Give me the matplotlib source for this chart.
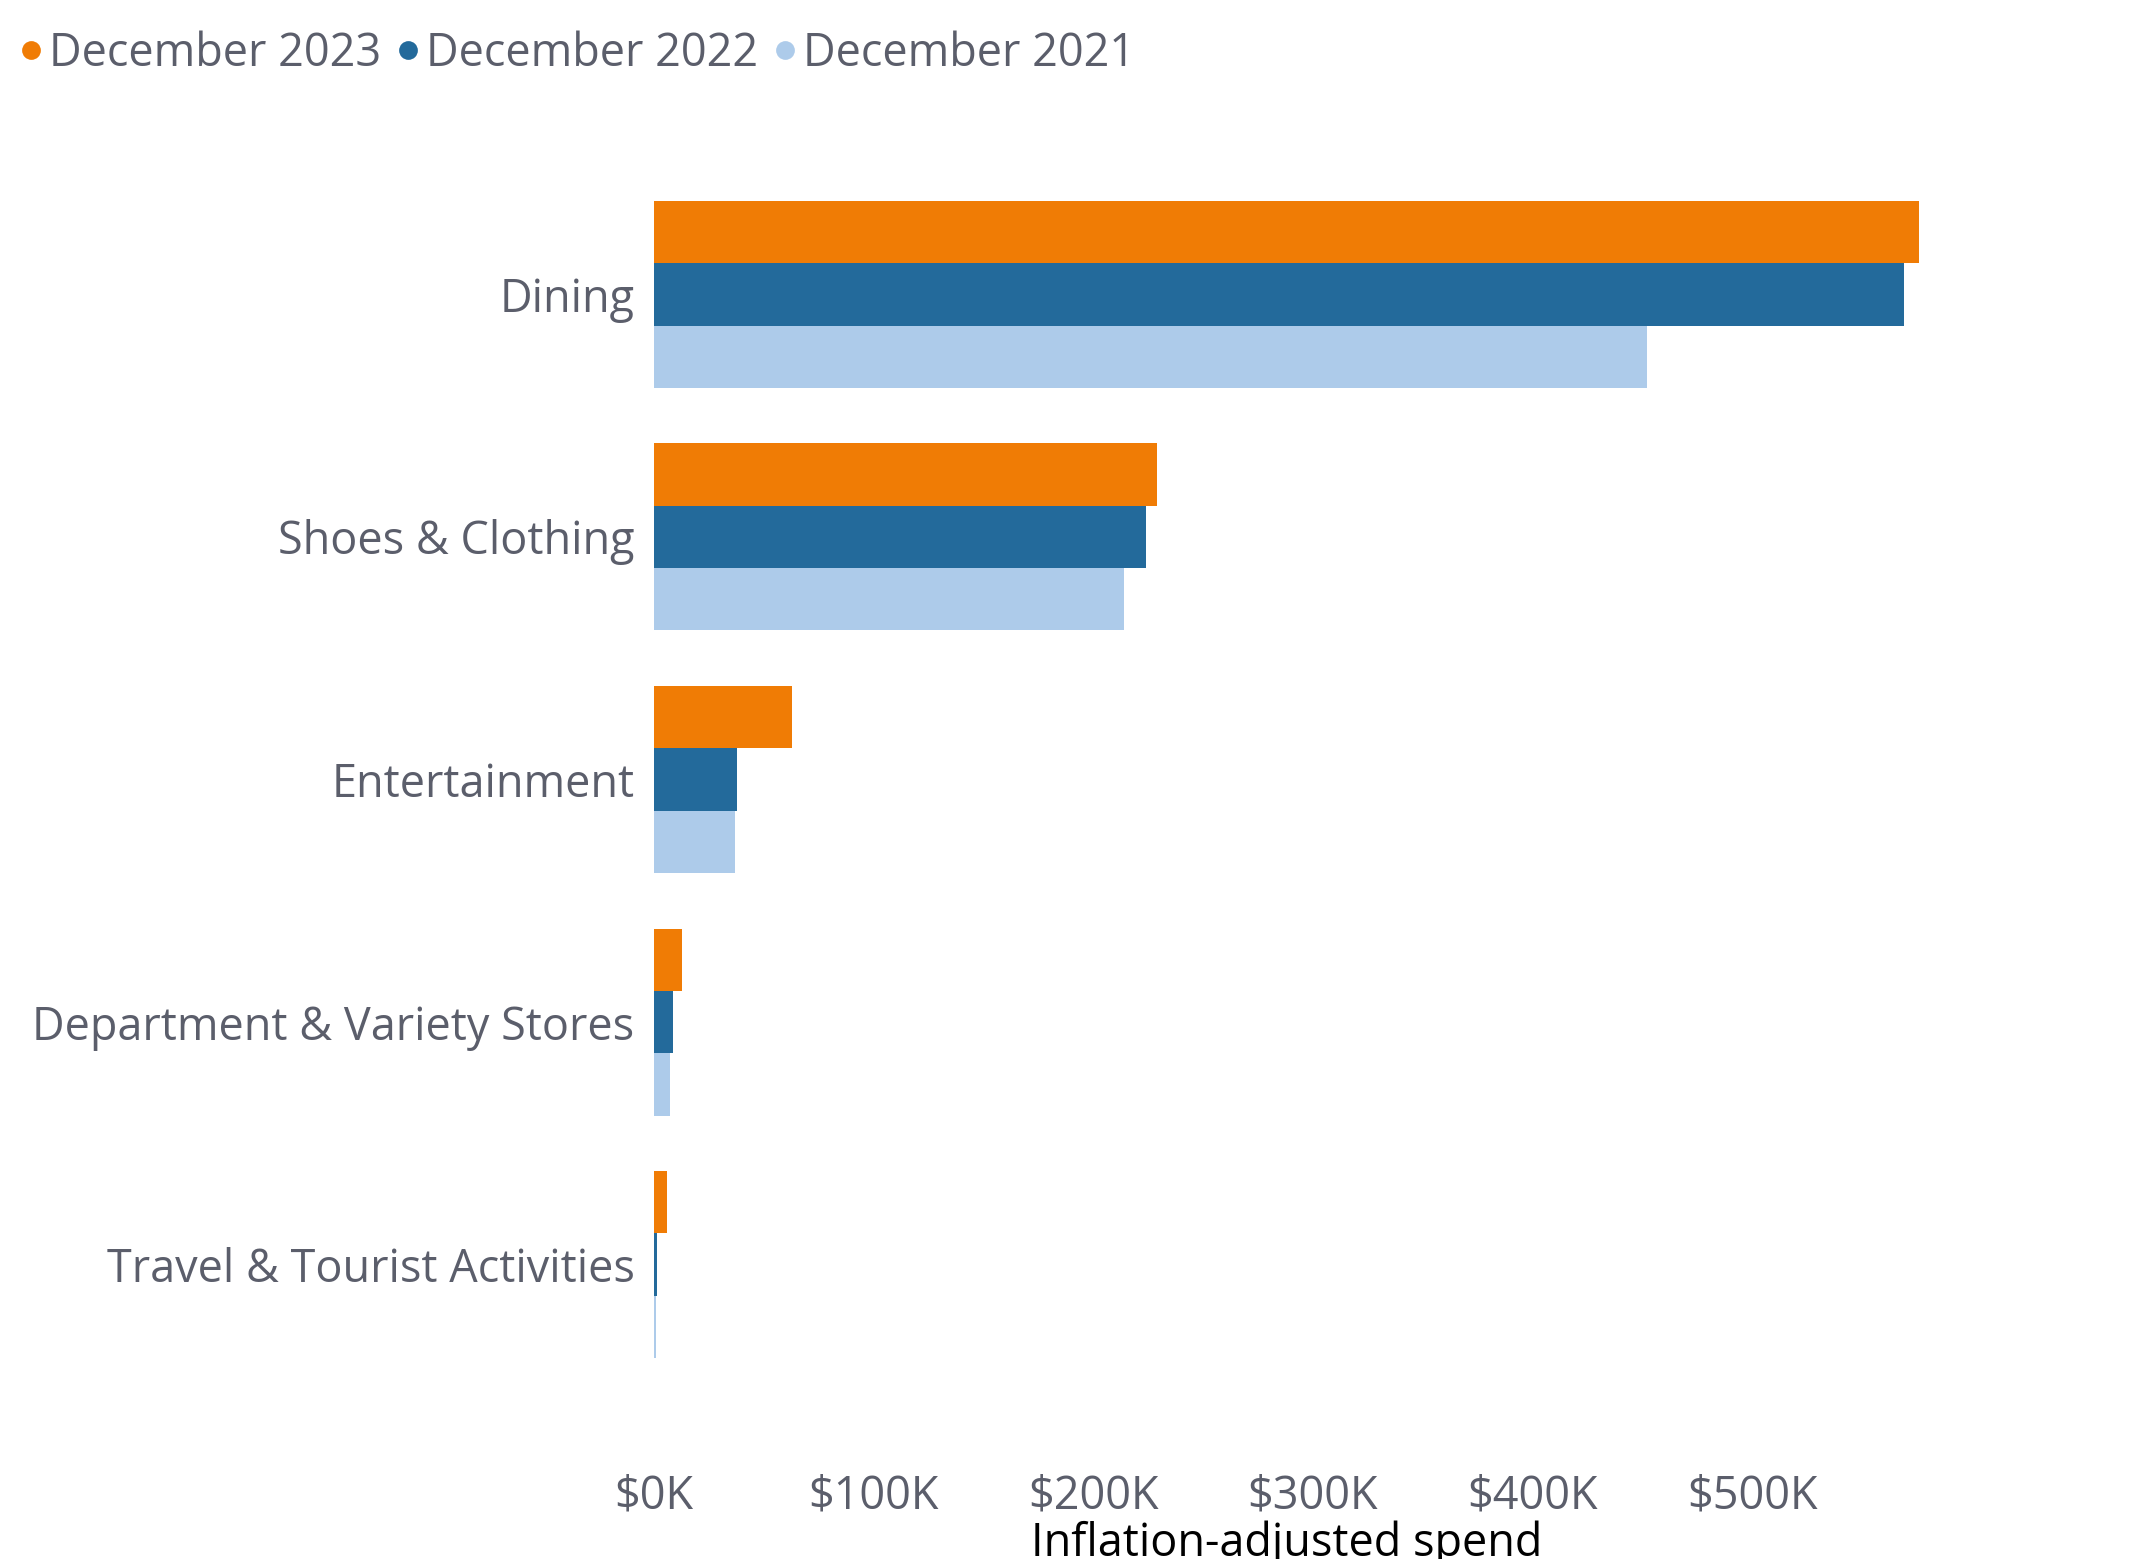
import numpy as np
import matplotlib
matplotlib.use("Agg")
import matplotlib.pyplot as plt
from matplotlib.lines import Line2D
from matplotlib.ticker import FuncFormatter

plt.rcParams['font.family'] = ['Open Sans', 'DejaVu Sans']

# Data (values in $K)
CATEGORIES = ['Dining', 'Shoes & Clothing', 'Entertainment',
              'Department & Variety Stores', 'Travel & Tourist Activities']
SERIES = ['December 2023', 'December 2022', 'December 2021']
DEC_2023 = [576, 229, 63, 12.8, 5.9]
DEC_2022 = [569, 224, 38, 8.7, 1.4]
DEC_2021 = [452, 214, 37, 7.3, 0.9]
XTICKS = [0, 100, 200, 300, 400, 500]

COLORS = ['#F07C05', '#236A9B', '#ADCBEA']
TEXT_GREY = '#5B5E6B'
FS = 32.4

fig = plt.figure(figsize=(21.37, 15.59), dpi=100)
ax = fig.add_axes([0.306, 0.111, 0.592, 0.778])

values = [DEC_2023, DEC_2022, DEC_2021]
n = len(CATEGORIES)
y = np.arange(n)
bar_h = 0.257
for i, (vals, col) in enumerate(zip(values, COLORS)):
    ax.barh(y + (i - 1) * bar_h, vals, height=bar_h, color=col, linewidth=0)

ax.set_ylim(n - 0.5, -0.5)
ax.set_xlim(0, max(DEC_2023))
ax.set_yticks(y)
ax.set_yticklabels(CATEGORIES, fontsize=FS, color=TEXT_GREY)
ax.set_xticks(XTICKS)
ax.xaxis.set_major_formatter(FuncFormatter(lambda v, p: f'${v:.0f}K'))
ax.tick_params(axis='x', labelsize=FS, labelcolor=TEXT_GREY, length=0, pad=63)
ax.tick_params(axis='y', length=0, pad=14)
for s in ax.spines.values():
    s.set_visible(False)

ax.set_xlabel('Inflation-adjusted spend', fontsize=FS, color='black', labelpad=1)

handles = [Line2D([], [], marker='o', linestyle='none', markersize=13.5,
                  markerfacecolor=c, markeredgewidth=0) for c in COLORS]
fig.legend(handles, SERIES, loc='upper left', bbox_to_anchor=(0.008, 0.98),
           ncol=3, frameon=False, fontsize=FS, labelcolor=TEXT_GREY,
           handlelength=0.6, handletextpad=0.1, columnspacing=0.3,
           borderpad=0, borderaxespad=0)

fig.savefig('out.png', dpi=100)
